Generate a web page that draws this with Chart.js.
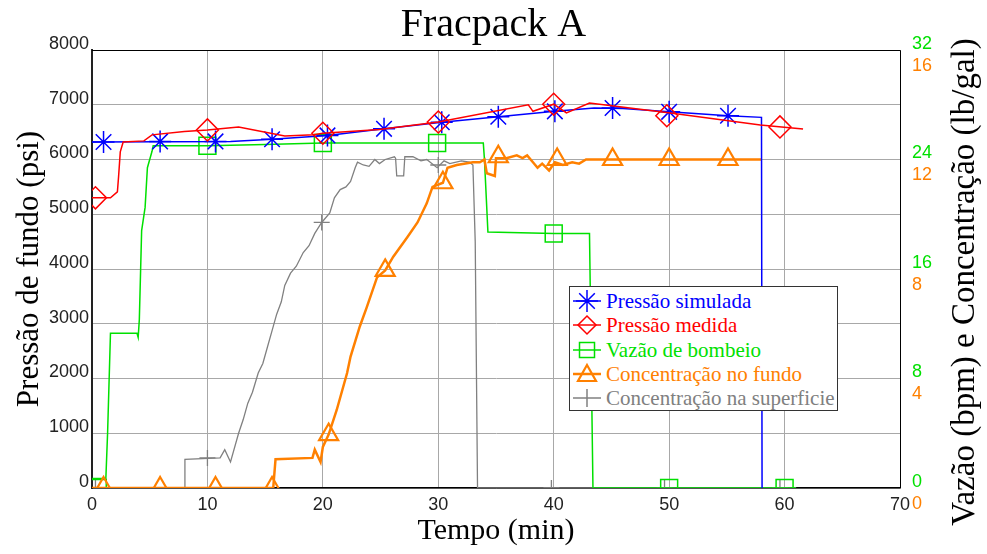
<!DOCTYPE html>
<html>
<head>
<meta charset="utf-8">
<script src="https://cdn.jsdelivr.net/npm/chart.js@4.4.1/dist/chart.umd.min.js"></script>
<style>
body { margin: 0; background: #fff; }
#wrap { position: relative; width: 987px; height: 554px; }
#legend { position: absolute; left: 569px; top: 286px; width: 267px; height: 123px; border: 1px solid #333; background: #fff; font-family: 'Liberation Serif', serif; font-size: 21px; }
#legend .row { position: absolute; left: 0; height: 24px; line-height: 24px; white-space: nowrap; }
#legend svg { position: absolute; left: 2px; top: 0; }
#legend span { position: absolute; left: 36px; top: 0; }
</style>
</head>
<body>
<div id="wrap">
  <canvas id="chart"></canvas>
  <div id="legend"></div>
</div>
<script>
// Pressão simulada (psi)
const simT = [0, 12, 15.6, 20.4, 25.3, 30.3, 35.2, 40.1, 43.5, 46, 50, 55.1, 58.0, 58.05];
const simP = [6320, 6330, 6370, 6440, 6560, 6680, 6780, 6880, 6940, 6930, 6870, 6800, 6770, 0];
const simMarkT = [1.0, 5.9, 10.7, 15.6, 20.4, 25.3, 30.3, 35.2, 40.1, 45.1, 50.0, 55.1];
const simMarkP = [6320, 6330, 6330, 6370, 6440, 6560, 6680, 6780, 6880, 6940, 6870, 6800];

// Pressão medida (psi)
const medT = [0, 1.6, 2.2, 2.3, 2.45, 2.7, 4.5, 5.2, 8.0, 10.0, 12.7, 16.7, 19.2, 20.0, 24.9, 30.0, 37.8, 38.2, 40.0, 41.1, 43.1, 50.1, 57.9, 61.6];
const medP = [5300, 5300, 5410, 5680, 6140, 6320, 6340, 6450, 6510, 6540, 6595, 6430, 6450, 6480, 6550, 6685, 7000, 6880, 7010, 6850, 7030, 6850, 6630, 6557];
const medMarkT = [0.3, 10.0, 20.0, 30.0, 40.0, 49.8, 59.6];
const medMarkP = [5300, 6540, 6480, 6685, 7010, 6800, 6595];

// Vazão de bombeio (bpm)
const vazT = [0, 1.2, 1.35, 1.6, 3.9, 4.0, 4.1, 4.3, 4.6, 4.8, 5.2, 5.3, 10, 15, 20, 25, 30, 33.9, 34.0, 34.3, 40, 43.1, 43.4, 61];
const vazQ = [0.7, 0.7, 4, 11.3, 11.3, 11.0, 12.3, 18.8, 20.5, 23.4, 24.6, 25.0, 25.0, 25.1, 25.2, 25.2, 25.2, 25.2, 24.0, 18.7, 18.6, 18.6, 0, 0];
const vazMarkT = [0.5, 10.0, 20.0, 29.9, 40.0, 50.0, 60.0];
const vazMarkQ = [0, 25.0, 25.2, 25.2, 18.6, 0, 0];

// Concentração no fundo (lb/gal)
const fundoT = [0, 15.7, 15.9, 19.1, 19.3, 19.8, 20.0, 20.5, 21.2, 22.1, 22.4, 23.2, 23.8, 24.7, 25.4, 26.1, 27.3, 28.2, 29.0, 29.5, 30.4, 30.8, 31.6, 33.0, 33.6, 34.0, 34.2, 34.9, 35.0, 35.9, 36.8, 37.3, 37.7, 38.2, 38.6, 39.0, 39.6, 40.1, 40.8, 41.6, 42.2, 42.8, 58.0];
const fundoC = [0, 0, 1.05, 1.1, 1.4, 0.95, 1.5, 1.95, 2.85, 4.2, 4.8, 5.9, 6.6, 7.7, 7.95, 8.45, 9.15, 9.7, 10.4, 11.0, 11.15, 11.7, 11.8, 11.9, 11.9, 12.0, 11.5, 11.4, 12.05, 12.05, 12.15, 12.05, 12.15, 11.9, 11.7, 11.85, 11.6, 11.9, 11.8, 11.9, 11.85, 12.0, 12.0];
const fundoMarkT = [1.0, 5.9, 10.7, 15.6, 20.5, 25.4, 30.4, 35.2, 40.3, 45.1, 50.0, 55.1];
const fundoMarkC = [0, 0, 0, 0, 1.95, 7.95, 11.15, 12.1, 12.0, 12.0, 12.0, 12.0];

// Concentração na superficie (lb/gal)
const supT = [0, 8.0, 8.05, 11.1, 11.5, 12.0, 12.7, 13.1, 13.5, 13.9, 14.4, 14.8, 15.2, 15.6, 16.0, 16.4, 16.7, 17.2, 17.7, 18.3, 18.8, 19.3, 19.9, 20.6, 21.0, 21.5, 22.0, 22.4, 22.8, 23.0, 23.5, 24.0, 24.5, 24.9, 25.4, 26.2, 26.3, 26.4, 27.0, 27.1, 27.8, 28.5, 29.0, 29.9, 30.5, 31.0, 32.0, 32.7, 33.0, 33.2, 33.4, 61];
const supC = [0, 0, 1.05, 1.1, 1.4, 0.95, 2.0, 2.5, 3.1, 3.5, 4.2, 4.55, 5.15, 5.75, 6.35, 6.8, 7.4, 7.85, 8.1, 8.6, 8.85, 9.3, 9.7, 10.05, 10.6, 10.9, 11.0, 11.2, 11.7, 11.9, 11.8, 11.75, 12.0, 11.85, 12.0, 12.1, 12.05, 11.4, 11.4, 12.1, 12.1, 11.95, 12.0, 11.7, 11.95, 11.85, 11.95, 11.9, 11.8, 9.0, 0, 0];
const supMarkT = [0.3, 10.0, 19.9, 30.0, 39.8, 49.6, 59.6];
const supMarkC = [0, 1.1, 9.7, 11.8, 0, 0, 0];

const xTicks = [0, 10, 20, 30, 40, 50, 60, 70];

const BLUE = '#0000ff', RED = '#ff0000', GREEN = '#00e000', ORANGE = '#ff8000', GRAY = '#808080';
const serif = "'Liberation Serif', 'Times New Roman', serif";
const sans = "'Liberation Sans', Arial, sans-serif";

function pts(xs, ys) { return xs.map((x, i) => ({ x: x, y: ys[i] })); }

function lineSet(data, color, width, axis, order) {
    return { data: data, borderColor: color, borderWidth: width, pointRadius: 0, yAxisID: axis, order: order, fill: false, tension: 0 };
}
function markSet(data, color, style, radius, width, axis, order) {
    return { data: data, showLine: false, pointStyle: style, pointRadius: radius, pointHoverRadius: radius,
        pointBorderColor: color, pointBackgroundColor: 'rgba(0,0,0,0)', pointBorderWidth: width, borderColor: color, yAxisID: axis, order: order };
}

const frame = {
    id: 'frame',
    afterDatasetsDraw(chart) {
        const a = chart.chartArea, ctx = chart.ctx;
        ctx.save();
        ctx.strokeStyle = '#000';
        ctx.lineWidth = 1;
        ctx.beginPath();
        ctx.moveTo(a.left, a.top + 0.5); ctx.lineTo(a.right + 0.5, a.top + 0.5); ctx.lineTo(a.right + 0.5, a.bottom);
        ctx.stroke();
        ctx.restore();
    },
    afterDraw(chart) {
        const ctx = chart.ctx;
        ctx.save();
        ctx.translate(965, 282);
        ctx.rotate(-Math.PI / 2);
        ctx.font = '33px ' + serif;
        ctx.fillStyle = '#000';
        ctx.textAlign = 'center';
        ctx.textBaseline = 'middle';
        ctx.fillText('Vazão (bpm) e Concentração (lb/gal)', 0, 0);
        ctx.restore();
    }
};

new Chart(document.getElementById('chart'), {
    type: 'line',
    data: {
        datasets: [
            lineSet(pts(supT, supC), GRAY, 1.3, 'yc', 5),
            markSet(pts(supMarkT, supMarkC), GRAY, 'cross', 8, 1.3, 'yc', 5),
            lineSet(pts(vazT, vazQ), GREEN, 1.5, 'yq', 4),
            markSet(pts(vazMarkT, vazMarkQ), GREEN, 'rect', 12, 1.5, 'yq', 4),
            lineSet(pts(fundoT, fundoC), ORANGE, 2.5, 'yc', 3),
            markSet(pts(fundoMarkT, fundoMarkC), ORANGE, 'triangle', 11, 2.2, 'yc', 3),
            lineSet(pts(simT, simP), BLUE, 1.5, 'y', 2),
            markSet(pts(simMarkT, simMarkP), BLUE, 'star', 11, 1.5, 'y', 2),
            lineSet(pts(medT, medP), RED, 1.5, 'y', 1),
            markSet(pts(medMarkT, medMarkP), RED, 'rectRot', 11, 1.5, 'y', 1)
        ]
    },
    options: {
        responsive: true,
        maintainAspectRatio: false,
        animation: false,
        events: [],
        layout: { padding: 0 },
        plugins: {
            legend: { display: false },
            tooltip: { enabled: false },
            title: { display: true, text: 'Fracpack A', color: '#000', font: { family: serif, size: 40, weight: 'normal' }, padding: { top: 1, bottom: 1 } }
        },
        scales: {
            x: {
                type: 'linear', min: 0, max: 70,
                afterBuildTicks: s => { s.ticks = xTicks.map(v => ({ value: v })); },
                afterFit: s => { s.height = 66; },
                ticks: { color: '#222', font: { family: sans, size: 18 }, padding: 6, maxRotation: 0, callback: v => String(v) },
                grid: { color: '#a8a8a8', drawTicks: false },
                border: { color: '#000', width: 1.5 },
                title: { display: true, text: 'Tempo (min)', color: '#000', font: { family: serif, size: 30 }, padding: { top: 0, bottom: 5 } }
            },
            y: {
                position: 'left', min: 0, max: 8000,
                ticks: { stepSize: 1000, color: '#222', font: { family: sans, size: 18 }, padding: 3, labelOffset: -6, callback: v => String(v) },
                afterFit: s => { s.width = 92; },
                grid: { color: '#a8a8a8', drawTicks: false },
                border: { color: '#222', width: 2 },
                title: { display: true, text: 'Pressão de fundo (psi)', color: '#000', font: { family: serif, size: 31 }, padding: { top: 11, bottom: 0 } }
            },
            yc: {
                position: 'right', min: 0, max: 16, weight: 1,
                ticks: { stepSize: 4, color: ORANGE, font: { family: sans, size: 18 }, mirror: true, crossAlign: 'far', padding: 32, labelOffset: 16, callback: v => String(v) },
                afterFit: s => { s.width = 0; },
                grid: { display: false, drawTicks: false },
                border: { display: false }
            },
            yq: {
                position: 'right', min: 0, max: 32, weight: 2,
                ticks: { stepSize: 8, color: GREEN, font: { family: sans, size: 18 }, padding: 12, labelOffset: -6, callback: v => String(v) },
                afterFit: s => { s.width = 87; },
                grid: { display: false, drawTicks: false },
                border: { display: false }
            }
        }
    },
    plugins: [frame]
});

// legenda
const legendItems = [
    { label: 'Pressão simulada', color: BLUE, mark: 'star' },
    { label: 'Pressão medida', color: RED, mark: 'diamond' },
    { label: 'Vazão de bombeio', color: GREEN, mark: 'square' },
    { label: 'Concentração no fundo', color: ORANGE, mark: 'triangle' },
    { label: 'Concentração na superficie', color: GRAY, mark: 'cross' }
];
function markSvg(kind, c) {
    const line = '<line x1="1" y1="12" x2="29" y2="12" stroke="' + c + '" stroke-width="' + (kind === 'triangle' ? 2.5 : 1.5) + '"/>';
    let m = '';
    if (kind === 'star') m = '<path d="M15 1V23M4 12H26M7.2 4.2L22.8 19.8M22.8 4.2L7.2 19.8" stroke="' + c + '" stroke-width="1.5" fill="none"/>';
    if (kind === 'diamond') m = '<path d="M15 3L24 12L15 21L6 12Z" stroke="' + c + '" stroke-width="1.5" fill="none"/>';
    if (kind === 'square') m = '<rect x="7.5" y="4.5" width="15" height="15" stroke="' + c + '" stroke-width="1.5" fill="none"/>';
    if (kind === 'triangle') m = '<path d="M15 3L24 19H6Z" stroke="' + c + '" stroke-width="2.2" fill="none"/>';
    if (kind === 'cross') m = '<path d="M15 3V21" stroke="' + c + '" stroke-width="1.5" fill="none"/>';
    return '<svg width="30" height="24" viewBox="0 0 30 24">' + line + m + '</svg>';
}
const legend = document.getElementById('legend');
legendItems.forEach((it, i) => {
    const row = document.createElement('div');
    row.className = 'row';
    row.style.top = (2 + i * 24.3) + 'px';
    row.innerHTML = markSvg(it.mark, it.color) + '<span style="color:' + it.color + '">' + it.label + '</span>';
    legend.appendChild(row);
});
</script>
</body>
</html>
